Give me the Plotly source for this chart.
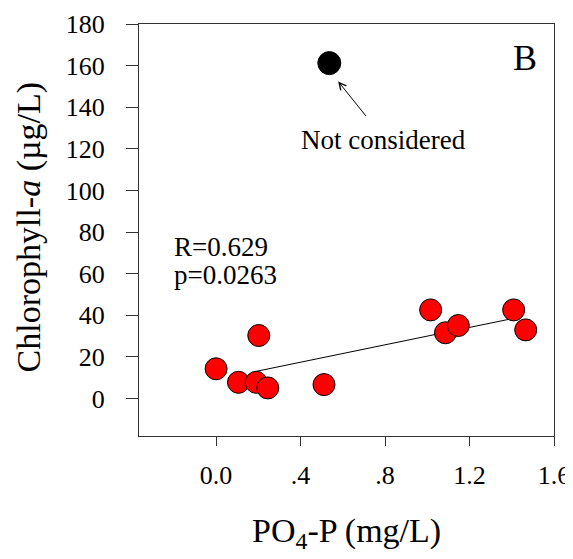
import plotly.graph_objects as go

# Data
po4_p = [0.0, 0.106, 0.19, 0.245, 0.202, 0.511, 1.016, 1.086, 1.147, 1.409, 1.466]
chl_a = [14.3, 7.8, 7.8, 5.1, 30.3, 6.7, 42.6, 31.6, 35.1, 42.6, 33.0]
outlier_x = [0.536]
outlier_y = [161.2]
fit_intercept = 9.1
fit_slope = 20.9
fit_x = [0.19, 1.409]
fit_y = [fit_intercept + fit_slope * v for v in fit_x]

x_tickvals = [0.0, 0.4, 0.8, 1.2, 1.6]
x_ticktext = ["0.0", ".4", ".8", "1.2", "1.6"]
y_tickvals = [0, 20, 40, 60, 80, 100, 120, 140, 160, 180]

FONT = "Liberation Serif"
AXC = "#333333"

fig = go.Figure()
fig.add_trace(go.Scatter(x=fit_x, y=fit_y, mode="lines",
                         line=dict(color="black", width=1), showlegend=False))
fig.add_trace(go.Scatter(x=po4_p, y=chl_a, mode="markers",
                         marker=dict(color="#ff0000", size=22,
                                     line=dict(color="black", width=1)),
                         showlegend=False))
fig.add_trace(go.Scatter(x=outlier_x, y=outlier_y, mode="markers",
                         marker=dict(color="black", size=23,
                                     line=dict(color="black", width=1)),
                         showlegend=False))

fig.add_annotation(x=0.578, y=152.4, ax=0.715, ay=135.1, axref="x", ayref="y",
                   xref="x", yref="y", text="", showarrow=True,
                   arrowhead=5, arrowsize=1.4, arrowwidth=1, arrowcolor="black")
fig.add_annotation(x=0.795, y=124.4, xref="x", yref="y", text="Not considered",
                   showarrow=False, font=dict(family=FONT, size=27, color="black"))
fig.add_annotation(x=1.463, y=163.5, xref="x", yref="y", text="B",
                   showarrow=False, font=dict(family=FONT, size=36, color="black"))
fig.add_annotation(x=-0.207, y=72.8, xref="x", yref="y", text="R=0.629",
                   showarrow=False, xanchor="left",
                   font=dict(family=FONT, size=27, color="black"))
fig.add_annotation(x=-0.207, y=59.3, xref="x", yref="y", text="p=0.0263",
                   showarrow=False, xanchor="left",
                   font=dict(family=FONT, size=27, color="black"))

# axis titles as paper annotations
fig.add_annotation(x=-0.2627, y=0.5085, xref="paper", yref="paper",
                   xanchor="center", yanchor="middle",
                   text="Chlorophyll-<i>a</i> (µg/L)", textangle=-90, showarrow=False,
                   font=dict(family=FONT, size=34, color="black"))
fig.add_annotation(x=0.5, y=-0.235, xref="paper", yref="paper",
                   xanchor="center", yanchor="middle",
                   text="PO<sub>4</sub>-P (mg/L)", showarrow=False,
                   font=dict(family=FONT, size=34, color="black"))

fig.update_xaxes(range=[-0.365, 1.6], tickvals=x_tickvals, ticktext=x_ticktext,
                 ticks="outside", ticklen=9, tickcolor=AXC, tickwidth=1,
                 showline=True, linecolor=AXC, linewidth=1, mirror=True,
                 showgrid=False, zeroline=False, ticklabelstandoff=7,
                 automargin=False, ticklabeloverflow="allow",
                 tickfont=dict(family=FONT, size=26, color="black"))
fig.update_yaxes(range=[-18, 180], tickvals=y_tickvals,
                 ticks="outside", ticklen=12, tickcolor=AXC, tickwidth=1,
                 showline=True, linecolor=AXC, linewidth=1, mirror=True,
                 showgrid=False, zeroline=False, ticklabelstandoff=16,
                 automargin=False,
                 tickfont=dict(family=FONT, size=26, color="black"))

# page body has an 8px margin, so the figure is offset by it
fig.update_layout(width=565, height=551, plot_bgcolor="white", paper_bgcolor="white",
                  margin=dict(l=131, r=19, t=16, b=123, pad=0))

fig.write_html("out.html")
